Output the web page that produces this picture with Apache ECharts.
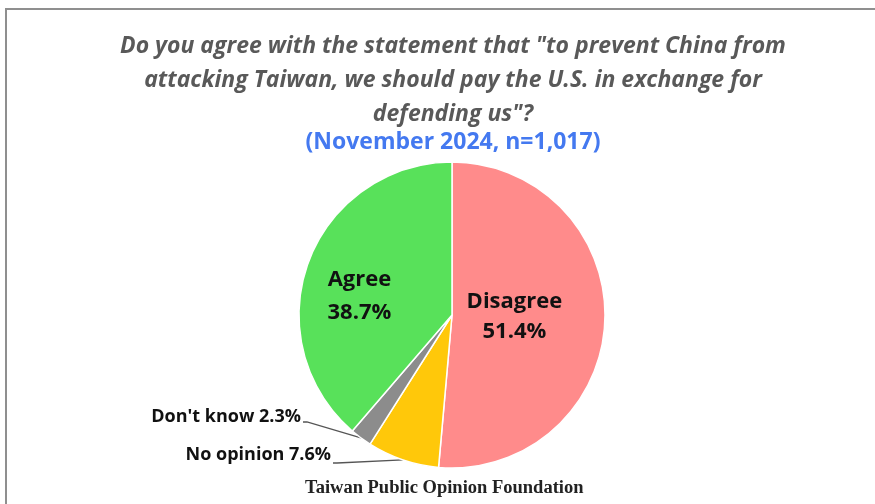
<!DOCTYPE html>
<html>
<head>
<meta charset="utf-8">
<script src="https://cdn.jsdelivr.net/npm/echarts@6/dist/echarts.min.js"></script>
<style>
  html, body { margin: 0; padding: 0; background: #fff; }
  #chart { width: 875px; height: 504px; }
</style>
</head>
<body>
<div id="chart"></div>
<script>
// Survey answers, clockwise from 12 o'clock
const categories = ['Disagree', 'No opinion', "Don't know", 'Agree'];
const shares = [51.4, 7.6, 2.3, 38.7];
const sliceColors = ['#FF8B8B', '#FFC80A', '#8C8C8C', '#58E15A'];

const titleText = 'Do you agree with the statement that "to prevent China from\nattacking Taiwan, we should pay the U.S. in exchange for\ndefending us"?';
const subtitleText = '(November 2024, n=1,017)';
const sourceText = 'Taiwan Public Opinion Foundation';

const chart = echarts.init(document.getElementById('chart'));

const insideLabel = (dx, dy, lh) => ({
  show: true,
  position: 'inside',
  formatter: '{b}\n{c}%',
  fontFamily: 'Open Sans',
  fontWeight: 'bold',
  fontSize: 22,
  lineHeight: lh,
  color: '#111',
  offset: [dx, dy]
});

// An empty second line lowers the point where the leader line meets the label
const outsideLabel = (gap) => ({
  show: true,
  position: 'outside',
  formatter: '{b} {c}%\n{g|}',
  fontFamily: 'Open Sans',
  fontWeight: 'bold',
  fontSize: 18,
  lineHeight: 24,
  color: '#111',
  padding: [0, 2, 0, 0],
  rich: { g: { lineHeight: gap, fontSize: 1 } }
});

const data = categories.map((name, i) => {
  const item = { name, value: shares[i], itemStyle: { color: sliceColors[i] } };
  if (name === 'Disagree') {
    item.label = insideLabel(-17, -2, 30);
  } else if (name === 'Agree') {
    item.label = insideLabel(-18, 9, 33);
  } else {
    item.label = outsideLabel(name === 'No opinion' ? 16 : 10);
    item.labelLine = { show: true, lineStyle: { color: '#555', width: 1.3 } };
  }
  return item;
});

// Callout anchors (label box right edge, vertical middle) for the small slices
const calloutAnchors = {
  "Don't know": [303, 422],
  'No opinion': [333, 463]
};

chart.setOption({
  animation: false,
  graphic: [{
    type: 'polyline',
    shape: { points: [[6, 600], [6, 9], [900, 9]] },
    style: { stroke: '#8f8f8f', lineWidth: 2, fill: null }
  }, {
    type: 'text',
    left: 305,
    top: 479,
    style: {
      text: sourceText,
      font: 'bold 18.5px "Liberation Serif"',
      fill: '#222'
    }
  }],
  title: {
    text: titleText,
    subtext: subtitleText,
    left: 448,
    textAlign: 'center',
    top: 24,
    itemGap: 0,
    textStyle: {
      fontFamily: 'Open Sans',
      fontStyle: 'italic',
      fontWeight: 'bold',
      fontSize: 23,
      lineHeight: 34,
      color: '#595959'
    },
    subtextStyle: {
      fontFamily: 'Open Sans',
      fontWeight: 'bold',
      fontSize: 23,
      color: '#4479F0'
    }
  },
  series: [{
    type: 'pie',
    center: [452, 315],
    radius: 153,
    startAngle: 90,
    clockwise: true,
    data,
    itemStyle: { borderColor: '#fff', borderWidth: 1.5 },
    labelLine: { length: 30, length2: 4 },
    labelLayout: (params) => {
      const a = calloutAnchors[categories[params.dataIndex]];
      if (!a) return {};
      return { x: a[0], y: a[1], align: 'right', verticalAlign: 'middle' };
    }
  }]
});
</script>
</body>
</html>
